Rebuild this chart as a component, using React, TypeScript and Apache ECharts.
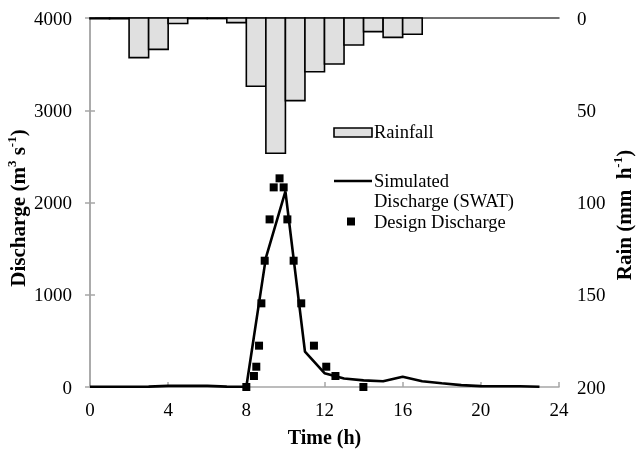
import React, { useEffect, useRef } from "react";
import * as echarts from "echarts";

// Hourly rainfall (mm/h), bar for hour i spans [i, i+1]
const rainHours = [0, 1, 2, 3, 4, 5, 6, 7, 8, 9, 10, 11, 12, 13, 14, 15, 16];
const rainValues = [0.4, 0.4, 21.5, 17, 3, 0.3, 0.3, 2.5, 37, 73.3, 44.8, 29.1, 24.9, 14.6, 7.4, 10.5, 8.8];

// Simulated discharge (SWAT), hourly
const simHours = [0, 1, 2, 3, 4, 5, 6, 7, 8, 9, 10, 11, 12, 13, 14, 15, 16, 17, 18, 19, 20, 21, 22, 23];
const simValues = [2, 2, 2, 4, 12, 14, 12, 4, 3, 1400, 2120, 383, 150, 92, 72, 62, 110, 62, 40, 20, 10, 8, 8, 2];

// Design discharge
const designHours = [8.0, 8.39, 8.51, 8.65, 8.77, 8.94, 9.19, 9.4, 9.7, 9.91, 10.1, 10.42, 10.81, 11.46, 12.09, 12.56, 13.99];
const designValues = [0, 119, 220, 448, 907, 1369, 1817, 2164, 2262, 2164, 1817, 1369, 907, 448, 220, 119, 0];

const FONT = "'Liberation Serif', 'Times New Roman', serif";
const AXIS_GRAY = "#a6a6a6";

export default function App() {
  const ref = useRef<HTMLDivElement>(null);
  useEffect(() => {
    if (!ref.current) return;
    const chart = echarts.init(ref.current, null, { renderer: "svg" });
    const labelStyle = { fontFamily: FONT, fontSize: 19, color: "#000", formatter: (v: number) => String(v) };
    const rich = {
      b: { fontFamily: FONT, fontSize: 21, fontWeight: "bold", fill: "#000", lineHeight: 26 },
      s: { fontFamily: FONT, fontSize: 13, fontWeight: "bold", fill: "#000", lineHeight: 26, verticalAlign: "top" },
    };
    const legendFont = `18.5px ${FONT}`;
    chart.setOption({
      animation: false,
      grid: { left: 90, right: 77, top: 18, bottom: 66, containLabel: false, outerBoundsMode: "none" },
      xAxis: [
        {
          type: "value",
          min: 0,
          max: 24,
          interval: 4,
          name: "Time (h)",
          nameLocation: "middle",
          nameGap: 40,
          nameTextStyle: { fontFamily: FONT, fontSize: 20, fontWeight: "bold", color: "#000" },
          axisLine: { show: true, lineStyle: { color: AXIS_GRAY, width: 1.5 } },
          axisTick: { show: true, inside: true, length: 5, lineStyle: { color: AXIS_GRAY, width: 1.5 } },
          axisLabel: { ...labelStyle, margin: 13 },
          splitLine: { show: false },
        },
        {
          type: "value",
          position: "top",
          min: 0,
          max: 24,
          interval: 4,
          axisLine: { show: true, onZero: false, lineStyle: { color: "#444", width: 1.5 } },
          axisTick: { show: false },
          axisLabel: { show: false },
          splitLine: { show: false },
        },
      ],
      yAxis: [
        {
          type: "value",
          min: 0,
          max: 4000,
          interval: 1000,
          axisLine: { show: true, lineStyle: { color: AXIS_GRAY, width: 1.5 } },
          axisTick: { show: true, inside: true, length: 5, lineStyle: { color: AXIS_GRAY, width: 1.5 } },
          axisLabel: { ...labelStyle, margin: 18 },
          splitLine: { show: false },
        },
        {
          type: "value",
          min: 0,
          max: 200,
          interval: 50,
          inverse: true,
          position: "right",
          axisLine: { show: true, lineStyle: { color: AXIS_GRAY, width: 1.5 } },
          axisTick: { show: true, inside: true, length: 5, lineStyle: { color: AXIS_GRAY, width: 1.5 } },
          axisLabel: { ...labelStyle, margin: 18 },
          splitLine: { show: false },
        },
      ],
      series: [
        {
          name: "Rainfall",
          type: "custom",
          xAxisIndex: 0,
          yAxisIndex: 1,
          data: rainHours.map((h, i) => [h, rainValues[i]]),
          renderItem: (params: any, api: any) => {
            const h = api.value(0);
            const v = api.value(1);
            const p0 = api.coord([h, 0]);
            const p1 = api.coord([h + 1, v]);
            return {
              type: "rect",
              shape: { x: p0[0], y: p0[1], width: p1[0] - p0[0], height: p1[1] - p0[1] },
              style: { fill: "#e0e0e0", stroke: "#000", lineWidth: 1.6 },
            };
          },
          z: 1,
        },
        {
          name: "Simulated Discharge (SWAT)",
          type: "line",
          xAxisIndex: 0,
          yAxisIndex: 0,
          data: simHours.map((h, i) => [h, simValues[i]]),
          showSymbol: false,
          symbol: "none",
          lineStyle: { color: "#000", width: 2.6 },
          z: 3,
        },
        {
          name: "Design Discharge",
          type: "scatter",
          xAxisIndex: 0,
          yAxisIndex: 0,
          data: designHours.map((h, i) => [h, designValues[i]]),
          symbol: "rect",
          symbolSize: 8,
          itemStyle: { color: "#000", opacity: 1 },
          z: 4,
        },
      ],
      graphic: [
        {
          type: "text",
          x: 18,
          y: 208,
          rotation: Math.PI / 2,
          style: { text: "{b|Discharge (m}{s|3}{b| s}{s|-1}{b|)}", rich, align: "center", verticalAlign: "middle" },
        },
        {
          type: "text",
          x: 624,
          y: 215,
          rotation: Math.PI / 2,
          style: { text: "{b|Rain (mm  h}{s|-1}{b|)}", rich, align: "center", verticalAlign: "middle" },
        },
        { type: "rect", shape: { x: 334, y: 128, width: 38, height: 9 }, style: { fill: "#e0e0e0", stroke: "#000", lineWidth: 1.6 } },
        { type: "text", x: 374, y: 132, style: { text: "Rainfall", font: legendFont, fill: "#000", verticalAlign: "middle" } },
        { type: "line", shape: { x1: 334, y1: 181, x2: 372, y2: 181 }, style: { stroke: "#000", lineWidth: 2.6 } },
        { type: "text", x: 374, y: 180.5, style: { text: "Simulated", font: legendFont, fill: "#000", verticalAlign: "middle" } },
        { type: "text", x: 374, y: 201, style: { text: "Discharge (SWAT)", font: legendFont, fill: "#000", verticalAlign: "middle" } },
        { type: "rect", shape: { x: 347, y: 217.5, width: 8, height: 8 }, style: { fill: "#000" } },
        { type: "text", x: 374, y: 221.5, style: { text: "Design Discharge", font: legendFont, fill: "#000", verticalAlign: "middle" } },
      ],
    });
    return () => chart.dispose();
  }, []);
  return <div ref={ref} style={{ position: "fixed", left: 0, top: 0, width: 636, height: 453 }} />;
}
